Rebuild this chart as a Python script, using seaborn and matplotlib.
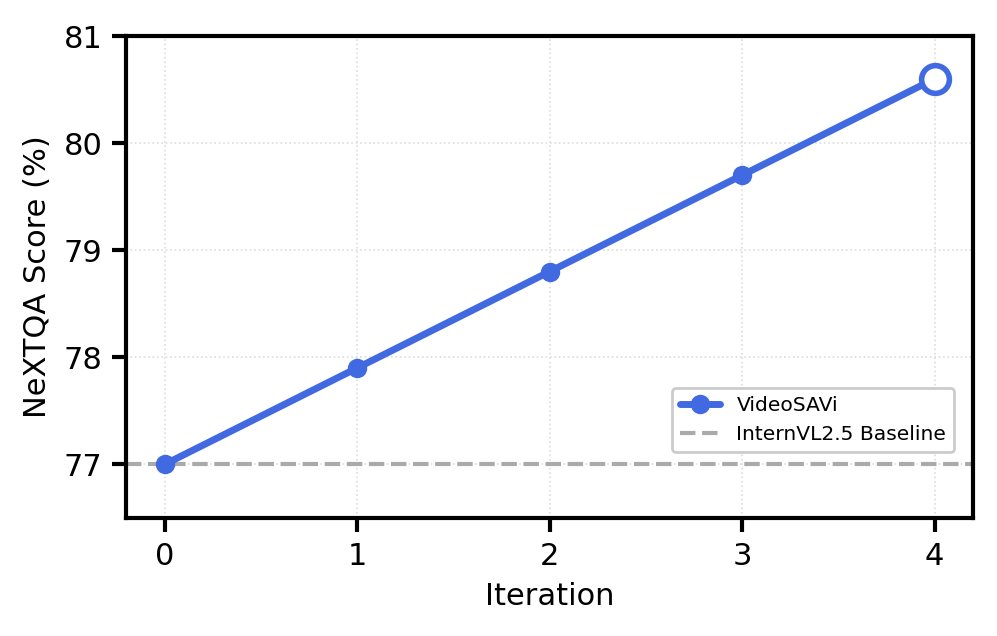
import matplotlib
matplotlib.use("Agg")
import matplotlib.pyplot as plt
import seaborn as sns
import pandas as pd

iterations = [0, 1, 2, 3, 4]
scores = [77.0, 77.9, 78.8, 79.7, 80.6]
baseline = 77.0
yticks = [77, 78, 79, 80, 81]

sns.set_style("white")
plt.rcParams['font.family'] = ['DejaVu Sans']
plt.rcParams['text.color'] = 'black'
plt.rcParams['axes.labelcolor'] = 'black'
plt.rcParams['xtick.color'] = 'black'
plt.rcParams['ytick.color'] = 'black'

fig = plt.figure(figsize=(997/200, 636/200), dpi=200)
ax = fig.add_axes([126/997, 1-518/636, (973-126)/997, (518-36)/636])

df = pd.DataFrame({"Iteration": iterations, "Score": scores})
sns.lineplot(data=df, x="Iteration", y="Score", ax=ax, color="#4169E1",
             linewidth=2.5, marker="o", markersize=7, markeredgewidth=0,
             label="VideoSAVi")
ax.plot([iterations[-1]], [scores[-1]], marker="o", markersize=10,
        markerfacecolor="white", markeredgecolor="#4169E1", markeredgewidth=2,
        linestyle="none", zorder=5)
ax.axhline(baseline, color="#aaaaaa", linestyle="--", linewidth=1.5,
           label="InternVL2.5 Baseline", zorder=1)

ax.set_xlim(-0.2, 4.2)
ax.set_ylim(76.5, 81)
ax.set_xticks(iterations)
ax.set_yticks(yticks)
ax.grid(True, linestyle=":", linewidth=0.6, color="#dddddd")
for s in ax.spines.values():
    s.set_linewidth(1.5)
    s.set_color("black")
ax.tick_params(axis="both", direction="out", length=5, width=1.5, labelsize=11,
               left=True, bottom=True, colors="black")
ax.set_xlabel("Iteration", fontsize=11)
ax.set_ylabel("NeXTQA Score (%)", fontsize=11)
ax.legend(loc="lower right", bbox_to_anchor=(0.99, 0.115), fontsize=7.3,
          frameon=True, edgecolor="#cccccc", framealpha=1)

fig.savefig("out.png", dpi=200)
